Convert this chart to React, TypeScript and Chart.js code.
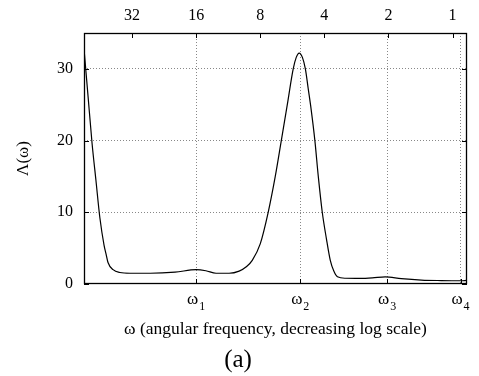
import React, { useEffect, useRef } from 'react';
import { Chart, registerables } from 'chart.js';
Chart.register(...registerables);

// period values (top axis) and spectrum values Λ(ω)
const periods = [53.8, 51.5, 49.3, 47.3, 45.3, 43.3, 42.4, 41.5, 39.3, 36.5, 32.7, 26.3, 20.1, 16, 14.4, 12.9, 11.2, 10.05, 9.3, 8.72, 8, 7.34, 6.8, 6.37, 5.97, 5.6, 5.42, 5.25, 5.07, 4.91, 4.76, 4.62, 4.43, 4.27, 4.09, 3.91, 3.75, 3.61, 3.47, 3.18, 2.71, 2.38, 2.07, 1.74, 1.4, 1.13, 0.917, 0.859];
const lambdaValues = [32.8, 26.2, 19.6, 14.5, 9.2, 5.4, 4.2, 3.0, 2.0, 1.6, 1.5, 1.5, 1.65, 2.0, 1.85, 1.5, 1.5, 1.8, 2.4, 3.3, 5.6, 10, 15, 20, 25, 30, 31.6, 32.2, 31.6, 30, 27.2, 24.5, 20, 15, 10, 6.3, 3.3, 1.8, 1.0, 0.8, 0.78, 0.85, 1.0, 0.75, 0.55, 0.48, 0.45, 0.5];
const topTicks = [32, 16, 8, 4, 2, 1];
const omegaTickPeriods = [16, 5.19, 2.03, 0.917];
const omegaTickSubscripts = ['1', '2', '3', '4'];
const yTicks = [0, 10, 20, 30];

const FONT = '"Liberation Serif", "DejaVu Serif", serif';

const framePlugin = {
  id: 'frame',
  afterDraw(chart: any) {
    const { ctx, chartArea: a, scales } = chart;
    ctx.save();
    ctx.strokeStyle = '#000';
    ctx.lineWidth = 1;
    const len = 5;
    ctx.beginPath();
    scales.x.ticks.forEach((t: any) => {
      const px = Math.round(scales.x.getPixelForValue(t.value)) + 0.5;
      ctx.moveTo(px, a.bottom); ctx.lineTo(px, a.bottom - len);
    });
    scales.x2.ticks.forEach((t: any) => {
      const px = Math.round(scales.x2.getPixelForValue(t.value)) + 0.5;
      ctx.moveTo(px, a.top); ctx.lineTo(px, a.top + len);
    });
    scales.y.ticks.forEach((t: any) => {
      const py = Math.round(scales.y.getPixelForValue(t.value)) + 0.5;
      ctx.moveTo(a.left, py); ctx.lineTo(a.left + len, py);
      ctx.moveTo(a.right, py); ctx.lineTo(a.right - len, py);
    });
    ctx.stroke();
    ctx.lineWidth = 1.3;
    ctx.strokeRect(a.left + 0.5, a.top + 0.5, a.right - a.left - 1, a.bottom - a.top - 1);

    // ω tick labels with subscripts
    ctx.fillStyle = '#000';
    ctx.textBaseline = 'middle';
    scales.x.ticks.forEach((t: any, i: number) => {
      const px = scales.x.getPixelForValue(t.value);
      ctx.font = '17px ' + FONT;
      const w1 = ctx.measureText('ω').width;
      ctx.font = '12px ' + FONT;
      const w2 = ctx.measureText(omegaTickSubscripts[i]).width;
      const x0 = px - (w1 + w2 + 1) / 2;
      ctx.textAlign = 'left';
      ctx.font = '17px ' + FONT;
      ctx.fillText('ω', x0, a.bottom + 16);
      ctx.font = '12px ' + FONT;
      ctx.fillText(omegaTickSubscripts[i], x0 + w1 + 1, a.bottom + 23);
    });

    ctx.font = '25px ' + FONT;
    ctx.textAlign = 'center';
    ctx.textBaseline = 'middle';
    ctx.fillText('(a)', 238, 360);
    ctx.restore();
  },
};

export default function App() {
  const ref = useRef<HTMLCanvasElement>(null);
  useEffect(() => {
    document.body.style.margin = '0';
    Chart.defaults.font.family = FONT;
    Chart.defaults.color = '#000';
    const chart = new Chart(ref.current!, {
      type: 'line',
      data: {
        datasets: [{
          data: periods.map((p, i) => ({ x: p, y: lambdaValues[i] })),
          borderColor: '#000',
          borderWidth: 1.2,
          pointRadius: 0,
          cubicInterpolationMode: 'monotone',
          fill: false,
        }],
      },
      options: {
        animation: false,
        responsive: false,
        layout: { padding: { left: 0, right: 12, top: 0, bottom: 0 } },
        plugins: { legend: { display: false }, tooltip: { enabled: false } },
        scales: {
          x: {
            type: 'logarithmic', position: 'bottom', min: 0.855, max: 53.8, reverse: true,
            afterBuildTicks: (s: any) => { s.ticks = omegaTickPeriods.map(v => ({ value: v })); },
            ticks: { display: false, autoSkip: false, maxRotation: 0 },
            grid: { color: '#888', drawTicks: false, lineWidth: 1 },
            border: { display: false, dash: [1, 2] },
            title: { display: true, text: 'ω (angular frequency, decreasing log scale)', color: '#000', font: { size: 17.5 }, padding: { top: 0, bottom: 36 } },
            afterFit: (s: any) => { s.height = 92; },
          },
          x2: {
            type: 'logarithmic', position: 'top', min: 0.855, max: 53.8, reverse: true,
            afterBuildTicks: (s: any) => { s.ticks = topTicks.map(v => ({ value: v })); },
            ticks: { callback: (v: any) => String(v), autoSkip: false, maxRotation: 0, padding: 8, color: '#000', font: { size: 16 } },
            grid: { display: false, drawTicks: false },
            border: { display: false },
            afterFit: (s: any) => { s.height = 33; },
          },
          y: {
            type: 'linear', min: 0, max: 35,
            afterBuildTicks: (s: any) => { s.ticks = yTicks.map(v => ({ value: v })); },
            ticks: { padding: 11, color: '#000', font: { size: 16 } },
            grid: { color: (c: any) => (c.tick && c.tick.value === 0 ? 'rgba(0,0,0,0)' : '#888'), drawTicks: false, lineWidth: 1 },
            border: { display: false, dash: [1, 2] },
            title: { display: true, text: 'Λ(ω)', color: '#000', font: { size: 17 }, padding: { top: 13, bottom: 0 } },
            afterFit: (s: any) => { s.width = 84; },
          },
        },
      } as any,
      plugins: [framePlugin],
    });
    return () => chart.destroy();
  }, []);
  return <canvas ref={ref} width={479} height={376} style={{ display: 'block' }} />;
}
